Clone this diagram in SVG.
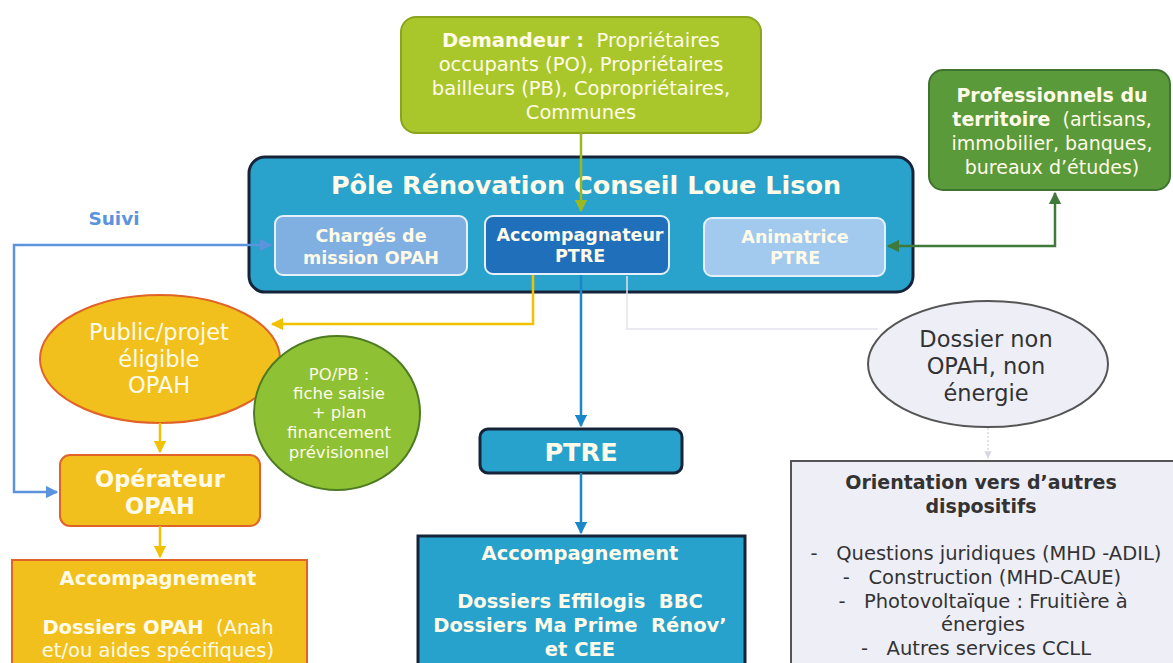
<svg xmlns="http://www.w3.org/2000/svg" width="1173" height="663" viewBox="0 0 1173 663">
<defs>
<style>
text{font-family:"DejaVu Sans","Verdana",sans-serif;text-anchor:middle}
.w{fill:#fffbe8}
.b{font-weight:bold}
.dk{fill:#333}
</style>
<marker id="aBlue" viewBox="0 0 10 10" refX="9" refY="5" markerWidth="5" markerHeight="5" orient="auto-start-reverse"><path d="M0,0 L10,5 L0,10 z" fill="#5b93dc"/></marker>
<marker id="aYel" viewBox="0 0 10 10" refX="9" refY="5" markerWidth="5" markerHeight="5" orient="auto"><path d="M0,0 L10,5 L0,10 z" fill="#f2c200"/></marker>
<marker id="aTeal" viewBox="0 0 10 10" refX="9" refY="5" markerWidth="5" markerHeight="5" orient="auto"><path d="M0,0 L10,5 L0,10 z" fill="#1a88c8"/></marker>
<marker id="aLime" viewBox="0 0 10 10" refX="9" refY="5" markerWidth="5" markerHeight="5" orient="auto"><path d="M0,0 L10,5 L0,10 z" fill="#9ab820"/></marker>
<marker id="aGreen" viewBox="0 0 10 10" refX="9" refY="5" markerWidth="5" markerHeight="5" orient="auto-start-reverse"><path d="M0,0 L10,5 L0,10 z" fill="#3f7a3a"/></marker>
<marker id="aPale" viewBox="0 0 10 10" refX="9" refY="5" markerWidth="5" markerHeight="5" orient="auto"><path d="M0,0 L10,5 L0,10 z" fill="#d8d8e4"/></marker>
</defs>
<rect width="1173" height="663" fill="#ffffff"/>

<g id="demandeur">
<rect x="401" y="17" width="360" height="116" rx="15" fill="#a9c72b" stroke="#8aa41e" stroke-width="2"/>
<text x="581" y="47" font-size="19.5" class="w" xml:space="preserve"><tspan class="b">Demandeur :</tspan>  Propriétaires</text>
<text x="581" y="71" font-size="19.5" class="w">occupants (PO), Propriétaires</text>
<text x="581" y="95" font-size="19.5" class="w">bailleurs (PB), Copropriétaires,</text>
<text x="581" y="119" font-size="19.5" class="w">Communes</text>
</g>

<g id="professionnels">
<rect x="929" y="70" width="241" height="120" rx="14" fill="#5b9a3a" stroke="#3e7430" stroke-width="2"/>
<text x="1052" y="102" font-size="19" class="w b">Professionnels du</text>
<text x="1052" y="126" font-size="19" class="w" xml:space="preserve"><tspan class="b">territoire</tspan>  (artisans,</text>
<text x="1052" y="150" font-size="19" class="w">immobilier, banques,</text>
<text x="1052" y="174" font-size="19" class="w">bureaux d’études)</text>
</g>

<g id="pole">
<rect x="249" y="157" width="664" height="135" rx="16" fill="#2aa3cc" stroke="#16243a" stroke-width="3"/>
<text x="586" y="194" font-size="25.5" class="w b">Pôle Rénovation Conseil Loue Lison</text>
</g>

<g id="charges">
<rect x="275" y="216" width="192" height="59" rx="8" fill="#80afe2" stroke="#e6f0fa" stroke-width="2"/>
<text x="371" y="242" font-size="17.5" class="w b">Chargés de</text>
<text x="371" y="264" font-size="17.5" class="w b">mission OPAH</text>
</g>

<g id="accompagnateur">
<rect x="485" y="216" width="184" height="58" rx="8" fill="#1f6fbb" stroke="#e6f0fa" stroke-width="2"/>
<text x="580" y="241" font-size="17.5" class="w b">Accompagnateur</text>
<text x="580" y="262" font-size="17.5" class="w b">PTRE</text>
</g>

<g id="animatrice">
<rect x="704" y="218" width="181" height="58" rx="8" fill="#a2c9ee" stroke="#e6f0fa" stroke-width="2"/>
<text x="795" y="243" font-size="17.5" class="w b">Animatrice</text>
<text x="795" y="264" font-size="17.5" class="w b">PTRE</text>
</g>

<g id="suivi-label">
<text x="114" y="225" font-size="18.5" class="b" fill="#5b93dc">Suivi</text>
</g>

<g id="public">
<ellipse cx="160" cy="359" rx="120" ry="64" fill="#f2c01c" stroke="#e0642a" stroke-width="2"/>
<text x="159" y="340" font-size="22.5" class="w">Public/projet</text>
<text x="159" y="367" font-size="22.5" class="w">éligible</text>
<text x="159" y="393" font-size="22.5" class="w">OPAH</text>
</g>

<g id="popb">
<ellipse cx="337" cy="413" rx="83" ry="77" fill="#8ec133" stroke="#4d7a22" stroke-width="2"/>
<text x="339" y="380" font-size="16.5" class="w">PO/PB :</text>
<text x="339" y="399" font-size="16.5" class="w">fiche saisie</text>
<text x="339" y="418" font-size="16.5" class="w">+ plan</text>
<text x="339" y="438" font-size="16.5" class="w">financement</text>
<text x="339" y="458" font-size="16.5" class="w">prévisionnel</text>
</g>

<g id="operateur">
<rect x="60" y="455" width="200" height="71" rx="10" fill="#f2c01c" stroke="#e0642a" stroke-width="2"/>
<text x="160" y="487" font-size="22.5" class="w b">Opérateur</text>
<text x="160" y="514" font-size="22.5" class="w b">OPAH</text>
</g>

<g id="accomp-opah">
<rect x="12" y="560" width="295" height="110" fill="#f2c01c" stroke="#e0642a" stroke-width="2"/>
<text x="158" y="585" font-size="19.5" class="w b">Accompagnement</text>
<text x="158" y="634" font-size="19.5" class="w" xml:space="preserve"><tspan class="b">Dossiers OPAH</tspan>  (Anah</text>
<text x="158" y="657" font-size="19.5" class="w">et/ou aides spécifiques)</text>
</g>

<g id="ptre">
<rect x="480" y="429" width="202" height="44" rx="8" fill="#27a2cd" stroke="#16243a" stroke-width="3"/>
<text x="581" y="461" font-size="25.5" class="w b">PTRE</text>
</g>

<g id="accomp-ptre">
<rect x="418" y="536" width="327" height="135" fill="#27a2cd" stroke="#16243a" stroke-width="3"/>
<text x="580" y="560" font-size="19.5" class="w b">Accompagnement</text>
<text x="580" y="608" font-size="19.5" class="w b" xml:space="preserve">Dossiers Effilogis  BBC</text>
<text x="580" y="632" font-size="19.5" class="w b" xml:space="preserve">Dossiers Ma Prime  Rénov’</text>
<text x="580" y="656" font-size="19.5" class="w b">et CEE</text>
</g>

<g id="dossier-non">
<ellipse cx="988" cy="364" rx="120" ry="63" fill="#eeeef7" stroke="#555" stroke-width="2"/>
<text x="986" y="347" font-size="22.5" class="dk">Dossier non</text>
<text x="986" y="374" font-size="22.5" class="dk">OPAH, non</text>
<text x="986" y="401" font-size="22.5" class="dk">énergie</text>
</g>

<g id="orientation">
<rect x="791" y="461" width="390" height="210" fill="#eeeef7" stroke="#555" stroke-width="2"/>
<text x="981" y="489" font-size="19" class="dk b">Orientation vers d’autres</text>
<text x="981" y="513" font-size="19" class="dk b">dispositifs</text>
<text x="986" y="560" font-size="19.5" class="dk" xml:space="preserve">-   Questions juridiques (MHD -ADIL)</text>
<text x="982" y="584" font-size="19.5" class="dk" xml:space="preserve">-   Construction (MHD-CAUE)</text>
<text x="983" y="608" font-size="19.5" class="dk" xml:space="preserve">-   Photovoltaïque : Fruitière à</text>
<text x="983" y="631" font-size="19.5" class="dk">énergies</text>
<text x="976" y="655" font-size="19.5" class="dk" xml:space="preserve">-   Autres services CCLL</text>
</g>

<g id="connectors" fill="none">
<path d="M581,133 V211" stroke="#9ab820" stroke-width="2.5" marker-end="url(#aLime)"/>
<path d="M271,245 H14 V492 H57" stroke="#5b93dc" stroke-width="2.5" marker-start="url(#aBlue)" marker-end="url(#aBlue)"/>
<path d="M533,275 V324 H272" stroke="#f2c200" stroke-width="2.5" marker-end="url(#aYel)"/>
<path d="M581,275 V426" stroke="#1a88c8" stroke-width="2.5" marker-end="url(#aTeal)"/>
<path d="M627,276 V329 H878" stroke="#e2e2ee" stroke-width="1.5"/>
<path d="M988,428 V458" stroke="#d8d8e4" stroke-width="1.5" stroke-dasharray="2 2" marker-end="url(#aPale)"/>
<path d="M160,423 V452" stroke="#f2c200" stroke-width="2.5" marker-end="url(#aYel)"/>
<path d="M160,526 V557" stroke="#f2c200" stroke-width="2.5" marker-end="url(#aYel)"/>
<path d="M581,473 V533" stroke="#1a88c8" stroke-width="2.5" marker-end="url(#aTeal)"/>
<path d="M888,246 H1055 V193" stroke="#3f7a3a" stroke-width="2.5" marker-start="url(#aGreen)" marker-end="url(#aGreen)"/>
</g>
</svg>
